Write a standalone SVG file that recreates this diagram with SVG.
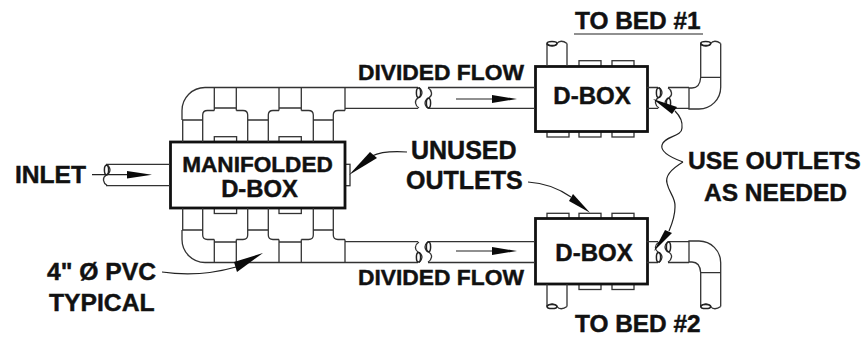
<svg xmlns="http://www.w3.org/2000/svg" width="866" height="337" viewBox="0 0 866 337">
<style>
.t{font-family:"Liberation Sans",Arial,sans-serif;font-weight:700;fill:#111;stroke:#111;stroke-width:.45}
.p{fill:none;stroke:#333;stroke-width:1.3}
.b{fill:#fff;stroke:#111;stroke-width:2.8}
.s{fill:#fff;stroke:#333;stroke-width:1.3}
.l{fill:none;stroke:#222;stroke-width:1.2}
.h{fill:#0a0a0a;stroke:none}
.o{fill:none;stroke:#222;stroke-width:1.5}
</style>
<defs>
<g id="brk"><path class="p" d="M2,0C7,4 5,9 1,10.5C-3,13 -2,18 2,20.5"/><ellipse class="o" cx="1.5" cy="5.2" rx="2.1" ry="4.8"/></g>
<g id="top"><path class="p" d="M-5,0C-2,4 3,3 5,0C7,-3 11,-3 15,0"/><ellipse class="o" cx="0" cy="0" rx="5" ry="2.1"/></g>
<g id="branch">
<path class="p" d="M182.7,142V120H202.7V142M202.7,120V115Q202.7,110.5 207.5,110.5H214.3M236.3,110.5H243Q247.7,110.5 247.7,115V142M247.7,120H268.3V142M268.3,120V115Q268.3,110.5 273,110.5H279M301.3,110.5H308.5Q313.3,110.5 313.3,115V142M313.3,120H333.3V142M333.3,120V115Q333.3,110.5 338,110.5H345"/>
<path class="p" d="M182,120V110.5A23,23 0 0 1 205,87.5H418M214.3,87.5V110.5M236.3,87.5V110.5M214.3,108H236.3M279,87.5V110.5M301.3,87.5V110.5M279,108H301.3M345,87.5V110.5M345,108.3H418M428,87.5H535M428,108.3H535"/>
<use href="#brk" transform="translate(417,87.5)"/>
<use href="#brk" transform="translate(430,108.3) rotate(180)"/>
<path class="l" d="M456,99H493"/><polygon class="h" points="492,95 517,99 492,103"/>
<path class="p" d="M647,87.5H658M647,108.3H658M668,87.5H689M668,108.3H689M689,87.5V109H699A21.7,21.7 0 0 0 720.7,87.3V43.5M689,88H692Q700,88 700.7,77.3V43.5M700.7,77.3H720.7"/>
<use href="#brk" transform="translate(657,87.5)"/>
<use href="#brk" transform="translate(670,108.3) rotate(180)"/>
<path class="p" d="M547,66V43.5M567,66V43.5"/>
<use href="#top" transform="translate(552,43.5)"/>
<use href="#top" transform="translate(705.7,43.5)"/>
</g>
</defs>
<g id="manifold">
<rect class="s" x="214.3" y="136.7" width="22.3" height="6"/>
<rect class="s" x="279" y="136.7" width="22.3" height="6"/>
<rect class="s" x="214.3" y="207.5" width="22.3" height="6"/>
<rect class="s" x="279" y="207.5" width="22.3" height="6"/>
<rect class="s" x="344" y="164.3" width="6" height="21.4"/>
<rect class="b" x="170.5" y="142" width="174.5" height="66"/>
<text class="t" x="257.5" y="171.7" font-size="22.6" text-anchor="middle">MANIFOLDED</text>
<text class="t" x="259.5" y="196.7" font-size="23.8" text-anchor="middle">D-BOX</text>
</g>
<g id="dbox1">
<rect class="s" x="579" y="60.7" width="22" height="6"/>
<rect class="s" x="612" y="60.7" width="22" height="6"/>
<rect class="s" x="547" y="131" width="22" height="6"/>
<rect class="s" x="579" y="131" width="22" height="6"/>
<rect class="s" x="612" y="131" width="22" height="6"/>
<rect class="b" x="535.5" y="66.5" width="112" height="65"/>
<text class="t" x="592" y="104.3" font-size="24" text-anchor="middle">D-BOX</text>
</g>
<g id="dbox2">
<rect class="s" x="547" y="213.3" width="22" height="6"/>
<rect class="s" x="579" y="213.3" width="22" height="6"/>
<rect class="s" x="612" y="213.3" width="22" height="6"/>
<rect class="s" x="579" y="283.5" width="22" height="6"/>
<rect class="s" x="612" y="283.5" width="22" height="6"/>
<rect class="b" x="535.5" y="218.5" width="112" height="65.5"/>
<text class="t" x="594" y="260.7" font-size="24" text-anchor="middle">D-BOX</text>
</g>
<g id="connectors">
<use href="#branch"/>
<use href="#branch" transform="matrix(1 0 0 -1 0 350)"/>
<path class="p" d="M106,164.3H170M106,185.7H170"/>
<use href="#brk" transform="translate(105,164.8)"/>
<path class="l" d="M92,174.7H127"/><polygon class="h" points="127,171 152,174.7 127,178.5"/>
<path class="l" d="M407,152C392,151 380,152 372,156"/><polygon class="h" points="349,175 370,152 377,158"/>
<path class="l" d="M528,182C545,183 558,188 571,197"/><polygon class="h" points="590,212.7 573,194 569,201"/>
<path class="l" d="M162,272C190,276 215,273 236,267"/><polygon class="h" points="263,253 234,262 237,272"/>
<path class="l" d="M683,162C672,158 660,152 662,145C664,136 682,137 682,128C683,120 678,114 675,111"/><polygon class="h" points="653,99 677,107 672,114"/>
<path class="l" d="M683,162C673,168 665,176 667,183C669,193 676,198 675,207C675,215 672,224 669,231"/><polygon class="h" points="654,251 665,230 672,233"/>
</g>
<g id="labels">
<text class="t" x="15" y="183.3" font-size="24.6">INLET</text>
<text class="t" x="358" y="80" font-size="22.8">DIVIDED FLOW</text>
<text class="t" x="358" y="285" font-size="22.8">DIVIDED FLOW</text>
<text class="t" x="575" y="29.3" font-size="24.4">TO BED #1</text>
<path class="l" d="M574,34H703"/>
<text class="t" x="575" y="331.7" font-size="24.4">TO BED #2</text>
<text class="t" x="411" y="159.3" font-size="25">UNUSED</text>
<text class="t" x="406" y="189" font-size="25">OUTLETS</text>
<text class="t" x="688" y="169.3" font-size="24.7">USE OUTLETS</text>
<text class="t" x="704" y="200.7" font-size="24.5">AS NEEDED</text>
<text class="t" x="47" y="280" font-size="24.7">4" Ø PVC</text>
<text class="t" x="49" y="311" font-size="24.7">TYPICAL</text>
</g>
</svg>
